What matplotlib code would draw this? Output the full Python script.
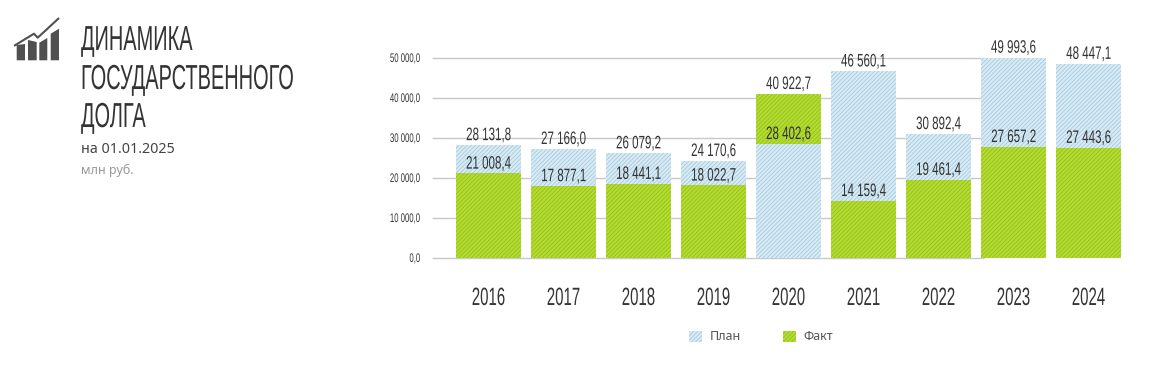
import matplotlib
matplotlib.use("Agg")
import matplotlib.pyplot as plt
from matplotlib.patches import Patch, Polygon
from matplotlib.patheffects import AbstractPathEffect
from matplotlib.transforms import Affine2D

years = ["2016", "2017", "2018", "2019", "2020", "2021", "2022", "2023", "2024"]
plan = [28131.8, 27166.0, 26079.2, 24170.6, 28402.6, 46560.1, 30892.4, 49993.6, 48447.1]
fact = [21008.4, 17877.1, 18441.1, 18022.7, 40922.7, 14159.4, 19461.4, 27657.2, 27443.6]
yticks = [0, 10000, 20000, 30000, 40000, 50000]

W, H = 1174, 380
BLUE, BLUE_H = "#d8ecf7", "#aecddd"
GREEN, GREEN_H = "#b4de2c", "#99c02a"
DARK = "#333333"
NARROW = "Liberation Sans"
HATCH = "////////"


# сжимает текст по горизонтали вокруг точки привязки (узкого шрифта нет)
class Squeeze(AbstractPathEffect):
    def __init__(self, txt, k):
        super().__init__()
        self.txt = txt
        self.k = k

    def draw_path(self, renderer, gc, tpath, affine, rgbFace=None):
        x0 = self.txt.get_transform().transform(self.txt.get_position())[0]
        squeeze = Affine2D().translate(-x0, 0).scale(self.k, 1).translate(x0, 0)
        renderer.draw_path(gc, tpath, affine + squeeze, rgbFace)


def squeeze(txt, k):
    txt.set_path_effects([Squeeze(txt, k)])
    return txt


def fmt(v):
    return f"{v:,.1f}".replace(",", " ").replace(".", ",")


plt.rcParams["hatch.linewidth"] = 0.7
fig = plt.figure(figsize=(W / 100, H / 100), dpi=100, facecolor="white")

# слой в пикселях для заголовка и значка
bg = fig.add_axes([0, 0, 1, 1])
bg.set_xlim(0, W)
bg.set_ylim(H, 0)
bg.axis("off")

icon_bars = [(16.7, 25, 45, 44), (28, 36.7, 40, 42), (39.3, 47.3, 42.7, 38), (50.7, 59, 33.7, 28.7)]
for x0, x1, top0, top1 in icon_bars:
    bg.add_patch(Polygon([(x0, 60.3), (x0, top0), (x1, top1), (x1, 60.3)], color="#505050", lw=0))
bg.plot([15, 34, 37.7, 58.3], [45.3, 33.7, 37.7, 18.7], color="#505050", lw=1.5)

for line, yb in zip(["ДИНАМИКА", "ГОСУДАРСТВЕННОГО", "ДОЛГА"], [50, 89, 127]):
    squeeze(bg.text(81, yb, line, fontsize=25, family=NARROW, color=DARK, va="baseline", ha="left"), 0.575)
bg.text(81, 153, "на 01.01.2025", fontsize=10.3, family="Noto Sans", color="#444444", va="baseline")
bg.text(81, 174, "млн руб.", fontsize=9, family="Noto Sans", color="#999999", va="baseline")

ax = fig.add_axes([432 / W, 1 - 257.5 / H, (1127 - 432) / W, 200 / H])
ax.patch.set_alpha(0)
x = list(range(len(years)))
ax.set_xlim(-0.753, 8.513)
ax.set_ylim(0, 50000)
for s in ax.spines.values():
    s.set_visible(False)
# линии сетки кончаются за колонкой 2023
ax.hlines(yticks, -0.753, 6.6, color="#c8c8c8", lw=1, zorder=1, clip_on=False)

for i in x:
    # большая колонка позади, меньшая спереди
    z_plan, z_fact = (2, 3) if plan[i] >= fact[i] else (3, 2)
    ax.bar(i, plan[i], width=0.867, facecolor=BLUE, edgecolor=BLUE_H, hatch=HATCH, lw=0, zorder=z_plan)
    ax.bar(i, fact[i], width=0.867, facecolor=GREEN, edgecolor=GREEN_H, hatch=HATCH, lw=0, zorder=z_fact)
    for v in (plan[i], fact[i]):
        t = ax.annotate(fmt(v), (i, v), xytext=(0, 0.6), textcoords="offset points", ha="center", va="bottom",
                        fontsize=13, family=NARROW, color=DARK, zorder=5)
        t.set_path_effects([Squeeze(t, 0.64)])

ax.set_xticks(x, years)
ax.set_yticks(yticks, [fmt(v) for v in yticks])
ax.tick_params(length=0)
ax.tick_params(axis="x", pad=20.5)
ax.tick_params(axis="y", pad=8.5)
for t in ax.get_xticklabels():
    t.set(fontsize=18, family=NARROW, color=DARK)
    squeeze(t, 0.6)
for t in ax.get_yticklabels():
    t.set(fontsize=9, family=NARROW, color=DARK)
    squeeze(t, 0.62)

handles = [Patch(facecolor=BLUE, edgecolor=BLUE_H, hatch=HATCH, lw=0, label="План"),
           Patch(facecolor=GREEN, edgecolor=GREEN_H, hatch=HATCH, lw=0, label="Факт")]
fig.legend(handles=handles, ncol=2, frameon=False, loc="center", bbox_to_anchor=(761 / W, 1 - 337 / H),
           handlelength=1.0, handleheight=1.0, handletextpad=0.6, columnspacing=3.4,
           prop={"family": "Noto Sans", "size": 9}, labelcolor="#555555")

fig.savefig("out.png", dpi=100)
